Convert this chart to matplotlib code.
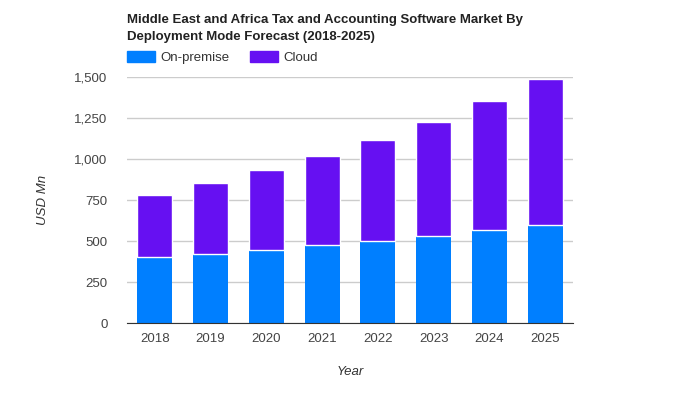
import matplotlib.pyplot as plt
import matplotlib.ticker as mticker
from matplotlib.patches import Patch
import numpy as np

plt.rcParams['font.family'] = ['Liberation Sans', 'DejaVu Sans']

years = ['2018', '2019', '2020', '2021', '2022', '2023', '2024', '2025']
on_premise = [402, 421, 445, 476, 500, 530, 567, 598]
cloud = [380, 434, 490, 544, 618, 697, 788, 892]

blue = '#007fff'
purple = '#6610f2'

fig = plt.figure(figsize=(7, 4), dpi=100)
ax = fig.add_axes([127/700, 1 - 323.3/400, 446/700, 246/400])

x = np.arange(len(years))
ax.bar(x, on_premise, width=0.63, color=blue, zorder=2)
ax.bar(x, cloud, bottom=on_premise, width=0.63, color=purple,
       edgecolor='white', linewidth=1, zorder=2)

ax.set_xlim(-0.5, len(years) - 0.5)
ax.set_ylim(0, 1500)
ax.set_yticks(np.arange(0, 1501, 250))
ax.yaxis.set_major_formatter(mticker.FuncFormatter(lambda v, p: f'{int(v):,}'))
ax.set_xticks(x)
ax.set_xticklabels(years)

ax.grid(axis='y', color='#cccccc', linewidth=1, zorder=0)
for s in ['top', 'right', 'left']:
    ax.spines[s].set_visible(False)
ax.spines['bottom'].set_color('#333333')
ax.spines['bottom'].set_zorder(3)
ax.tick_params(axis='both', length=0, labelsize=9.5, colors='#444444')
ax.tick_params(axis='y', pad=14)
ax.tick_params(axis='x', pad=7)

ax.set_xlabel('Year', fontsize=9.5, style='italic', color='#333333', labelpad=15)
ax.set_ylabel('USD Mn', fontsize=9.5, style='italic', color='#333333', labelpad=18)

fig.text(127/700, 1 - 14/400,
         'Middle East and Africa Tax and Accounting Software Market By\n'
         'Deployment Mode Forecast (2018-2025)',
         fontsize=9.5, fontweight='bold', color='#222222', va='top', ha='left',
         linespacing=1.55)

handles = [Patch(color=blue, label='On-premise'), Patch(color=purple, label='Cloud')]
fig.legend(handles=handles, loc='upper left', bbox_to_anchor=(127/700, 1 - 51/400),
           ncol=2, frameon=False, fontsize=9.5, handlelength=2.1, handleheight=0.95,
           handletextpad=0.4, columnspacing=1.6, borderpad=0, borderaxespad=0,
           labelcolor='#333333')

fig.savefig('out.png', dpi=100)
